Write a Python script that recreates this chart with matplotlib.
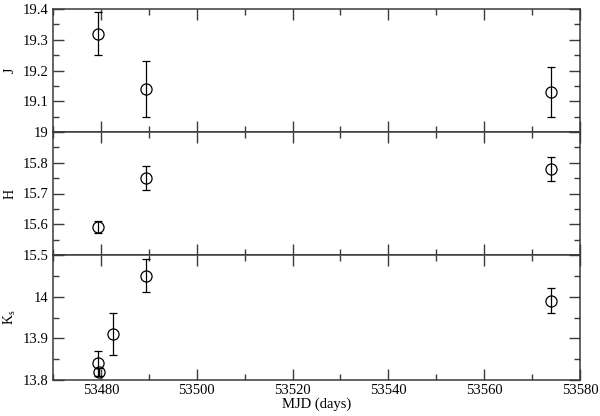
import matplotlib
matplotlib.use("Agg")
import matplotlib.pyplot as plt
from matplotlib.ticker import MultipleLocator, FuncFormatter

plt.rcParams['font.family'] = ['Liberation Serif', 'DejaVu Serif']
plt.rcParams['mathtext.fontset'] = 'custom'
plt.rcParams['mathtext.rm'] = 'Liberation Serif'
plt.rcParams['mathtext.it'] = 'Liberation Serif'

# Data
j_mjd = [53479.4, 53489.4, 53574.0]
j_mag = [19.32, 19.14, 19.13]
j_err = [0.07, 0.09, 0.08]

h_mjd = [53479.4, 53489.4, 53574.0]
h_mag = [15.59, 15.75, 15.78]
h_err = [0.02, 0.04, 0.04]

k_mjd = [53479.4, 53479.5, 53482.5, 53489.4, 53574.0]
k_mag = [13.84, 13.82, 13.91, 14.05, 13.99]
k_err = [0.03, 0.01, 0.05, 0.04, 0.03]

panels = [
    ("J", j_mjd, j_mag, j_err, (19.0, 19.4), [19.0, 19.1, 19.2, 19.3, 19.4]),
    ("H", h_mjd, h_mag, h_err, (15.5, 15.9), [15.5, 15.6, 15.7, 15.8]),
    ("K$_\\mathrm{s}$", k_mjd, k_mag, k_err, (13.8, 14.1), [13.8, 13.9, 14.0]),
]

fig = plt.figure(figsize=(6.0, 4.16), dpi=100)
left, right = 53 / 600, 580 / 600
tops = [9, 132, 255]
bots = [132, 255, 380]
axcol = '#3a3a3a'
axes = []
for i, (lab, x, y, e, ylim, labticks) in enumerate(panels):
    t, b = tops[i], bots[i]
    ax = fig.add_axes([left, 1 - b / 416, right - left, (b - t) / 416])
    ax.errorbar(x, y, yerr=e, fmt='o', mfc='none', mec='black', ecolor='black',
                ms=8, mew=0.9, elinewidth=0.9, capsize=3, capthick=0.9)
    ax.set_xlim(53470, 53580)
    ax.set_ylim(*ylim)
    ax.xaxis.set_major_locator(MultipleLocator(20))
    ax.xaxis.set_minor_locator(MultipleLocator(10))
    ax.yaxis.set_major_locator(MultipleLocator(0.1))
    ax.yaxis.set_minor_locator(MultipleLocator(0.05))
    labset = [round(v, 2) for v in labticks]
    ax.yaxis.set_major_formatter(FuncFormatter(
        lambda v, p, ls=labset: ('%g' % round(v, 2)) if round(v, 2) in ls else ''))
    ax.tick_params(which='both', direction='in', top=True, right=True,
                   labelsize=10.5, color=axcol, width=1.0, pad=3)
    ax.tick_params(which='major', length=8)
    ax.tick_params(which='minor', length=4)
    for s in ax.spines.values():
        s.set_color(axcol)
        s.set_linewidth(1.1)
    if i < 2:
        ax.tick_params(labelbottom=False)
    ax.set_ylabel(lab, fontsize=10, va='center')
    ax.yaxis.set_label_coords(-43 / 527, 0.5)
    axes.append(ax)

axes[-1].set_xlabel("MJD (days)", fontsize=10.5, labelpad=0)
fig.savefig("out.png", dpi=100)
